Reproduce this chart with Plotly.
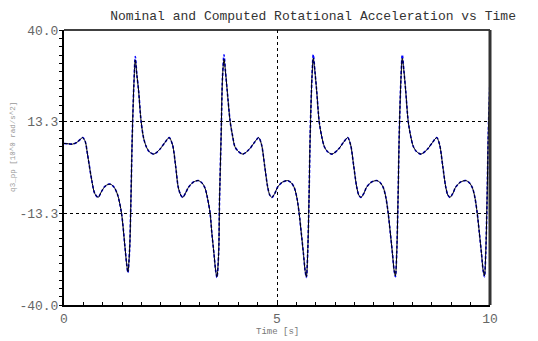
import plotly.graph_objects as go

# time samples [s]
t = [0.00, 0.10, 0.20, 0.30, 0.40, 0.44, 0.50, 0.55, 0.65, 0.72, 0.80, 0.88, 0.96, 1.04, 1.10, 1.18, 1.26, 1.35,
     1.43, 1.47, 1.50, 1.54, 1.57, 1.60, 1.64, 1.674, 1.71, 1.75, 1.81, 1.87, 1.93, 2.00, 2.11,
     2.25, 2.37, 2.47, 2.55, 2.62, 2.68, 2.74, 2.79, 2.85, 2.92, 3.03, 3.15, 3.24, 3.31, 3.37, 3.43, 3.47,
     3.52, 3.56, 3.59, 3.63, 3.65, 3.69, 3.72, 3.756, 3.79, 3.83, 3.90, 3.96, 4.01, 4.09, 4.20,
     4.35, 4.47, 4.57, 4.64, 4.71, 4.78, 4.83, 4.88, 4.95, 5.01, 5.12, 5.25, 5.34, 5.41, 5.47, 5.52, 5.57,
     5.62, 5.66, 5.69, 5.72, 5.75, 5.78, 5.82, 5.852, 5.89, 5.93, 5.99, 6.05, 6.11, 6.18, 6.29,
     6.44, 6.56, 6.66, 6.73, 6.80, 6.87, 6.92, 6.97, 7.04, 7.10, 7.21, 7.34, 7.43, 7.50, 7.56, 7.61, 7.66,
     7.71, 7.75, 7.78, 7.81, 7.84, 7.87, 7.91, 7.941, 7.98, 8.02, 8.08, 8.14, 8.20, 8.27, 8.38,
     8.53, 8.65, 8.75, 8.82, 8.89, 8.96, 9.01, 9.06, 9.13, 9.19, 9.30, 9.43, 9.52, 9.59, 9.65, 9.70, 9.75,
     9.80, 9.84, 9.87, 9.90, 9.93, 9.96, 10.00]

# computed rotational acceleration q3_pp [rad/s^2]
computed = [7.0, 6.9, 6.8, 7.3, 8.4, 8.7, 7.5, 4.0, -3.6, -7.5, -8.7, -7.0, -5.5, -4.9, -4.9, -5.8, -8.0, -13.3,
            -23.0, -28.0, -30.3, -24.0, -10.0, 8.0, 24.0, 31.3, 27.0, 22.5, 13.4, 8.5, 6.1, 4.6, 3.9,
            5.3, 7.3, 8.7, 6.5, 0.5, -5.6, -8.0, -8.7, -7.5, -5.8, -4.3, -3.8, -4.5, -6.0, -9.0, -13.3, -19.0,
            -25.0, -30.0, -31.8, -25.0, -10.0, 10.0, 26.0, 31.5, 28.0, 22.5, 13.4, 9.0, 6.1, 4.7, 3.9,
            5.3, 7.3, 8.7, 6.5, 0.5, -5.6, -8.0, -8.7, -7.5, -5.8, -4.3, -3.8, -4.5, -6.0, -9.0, -13.3, -19.0,
            -25.0, -30.0, -31.8, -25.0, -10.0, 10.0, 26.0, 31.8, 28.0, 22.5, 13.4, 9.0, 6.1, 4.7, 3.9,
            5.3, 7.3, 8.7, 6.5, 0.5, -5.6, -8.0, -8.7, -7.5, -5.8, -4.3, -3.8, -4.5, -6.0, -9.0, -13.3, -19.0,
            -25.0, -30.0, -31.5, -25.0, -10.0, 10.0, 26.0, 31.8, 28.0, 22.5, 13.4, 9.0, 6.1, 4.7, 3.9,
            5.3, 7.3, 8.7, 6.5, 0.5, -5.6, -8.0, -8.7, -7.5, -5.8, -4.3, -3.8, -4.5, -6.0, -9.0, -13.3, -19.0,
            -25.0, -30.0, -31.5, -25.0, -10.0, 10.0, 26.0]

# nominal rotational acceleration q3_pp [rad/s^2]
nominal = [7.0, 6.9, 6.8, 7.3, 8.4, 8.7, 7.5, 4.0, -3.6, -7.5, -8.7, -7.0, -5.5, -4.9, -4.9, -5.8, -8.0, -13.3,
           -23.0, -28.0, -30.6, -24.0, -10.0, 8.0, 24.0, 32.3, 27.0, 22.5, 13.4, 8.5, 6.1, 4.6, 3.9,
           5.3, 7.3, 8.7, 6.5, 0.5, -5.6, -8.0, -8.7, -7.5, -5.8, -4.3, -3.8, -4.5, -6.0, -9.0, -13.3, -19.0,
           -25.0, -30.0, -32.0, -25.0, -10.0, 10.0, 26.0, 32.8, 28.0, 22.5, 13.4, 9.0, 6.1, 4.7, 3.9,
           5.3, 7.3, 8.7, 6.5, 0.5, -5.6, -8.0, -8.7, -7.5, -5.8, -4.3, -3.8, -4.5, -6.0, -9.0, -13.3, -19.0,
           -25.0, -30.0, -32.0, -25.0, -10.0, 10.0, 26.0, 32.8, 28.0, 22.5, 13.4, 9.0, 6.1, 4.7, 3.9,
           5.3, 7.3, 8.7, 6.5, 0.5, -5.6, -8.0, -8.7, -7.5, -5.8, -4.3, -3.8, -4.5, -6.0, -9.0, -13.3, -19.0,
           -25.0, -30.0, -31.8, -25.0, -10.0, 10.0, 26.0, 32.8, 28.0, 22.5, 13.4, 9.0, 6.1, 4.7, 3.9,
           5.3, 7.3, 8.7, 6.5, 0.5, -5.6, -8.0, -8.7, -7.5, -5.8, -4.3, -3.8, -4.5, -6.0, -9.0, -13.3, -19.0,
           -25.0, -30.0, -31.8, -25.0, -10.0, 10.0, 26.0]

x_tickvals = [0, 5, 10]
x_ticktext = ["0", "5", "10"]
y_tickvals = [-40, -13.333, 13.333, 40]
y_ticktext = ["-40.0", "-13.3", "13.3", "40.0"]

FONT = "Liberation Mono, Courier New, monospace"

fig = go.Figure()
fig.add_trace(go.Scatter(x=t, y=nominal, mode="lines", name="nominal",
                         line=dict(color="#0000ff", width=1.6, dash="3px,2px", shape="spline", smoothing=0.8)))
fig.add_trace(go.Scatter(x=t, y=computed, mode="lines", name="computed",
                         line=dict(color="#000000", width=1.0, shape="spline", smoothing=0.8)))

fig.update_layout(
    width=538, height=341,
    margin=dict(l=64, r=48, t=30, b=36),
    paper_bgcolor="white", plot_bgcolor="white",
    showlegend=False,
    font=dict(family=FONT, color="#666666", size=13),
    title=dict(text="Nominal and Computed Rotational Acceleration vs Time",
               x=0.582, xanchor="center", xref="container",
               y=1 - 15 / 341, yanchor="middle", yref="container",
               font=dict(family=FONT, size=13, color="#333333")),
)

fig.update_xaxes(
    range=[0, 10], tickmode="array", tickvals=x_tickvals, ticktext=x_ticktext,
    showgrid=True, gridcolor="black", griddash="3px,3px", gridwidth=1,
    zeroline=False, showline=True, linecolor="black", linewidth=2,
    ticks="inside", ticklen=3, tickcolor="black",
    minor=dict(tick0=0, dtick=5 / 11, ticks="inside", ticklen=3, tickcolor="black", showgrid=False),
    tickfont=dict(family=FONT, size=13, color="#666666"),
)
fig.update_yaxes(
    range=[-40, 40], tickmode="array", tickvals=y_tickvals, ticktext=y_ticktext,
    showgrid=True, gridcolor="black", griddash="3px,3px", gridwidth=1,
    zeroline=False, showline=True, linecolor="black", linewidth=2,
    ticks="", ticklabelstandoff=1,
    minor=dict(tick0=-40, dtick=80 / 3 / 11, ticks="outside", ticklen=3, tickcolor="black", showgrid=False),
    tickfont=dict(family=FONT, size=13, color="#666666"),
)

# plot frame: top and right borders
fig.add_shape(type="line", xref="paper", yref="paper", x0=0, x1=1, y0=1, y1=1,
              line=dict(color="black", width=1.5))
fig.add_shape(type="line", xref="paper", yref="paper", x0=1, x1=1, y0=0, y1=1,
              line=dict(color="#333333", width=3))

fig.add_annotation(text="Time [s]", xref="paper", yref="paper", x=0.5, y=0, yshift=-27,
                   yanchor="middle", showarrow=False, font=dict(family=FONT, size=9, color="#777777"))
fig.add_annotation(text="q3_pp [10^0 rad/s^2]", xref="paper", yref="paper", x=0, xshift=-51, y=0.575,
                   textangle=-90, xanchor="center", yanchor="middle", showarrow=False,
                   font=dict(family=FONT, size=7.5, color="#999999"))

fig.write_html("out.html")
